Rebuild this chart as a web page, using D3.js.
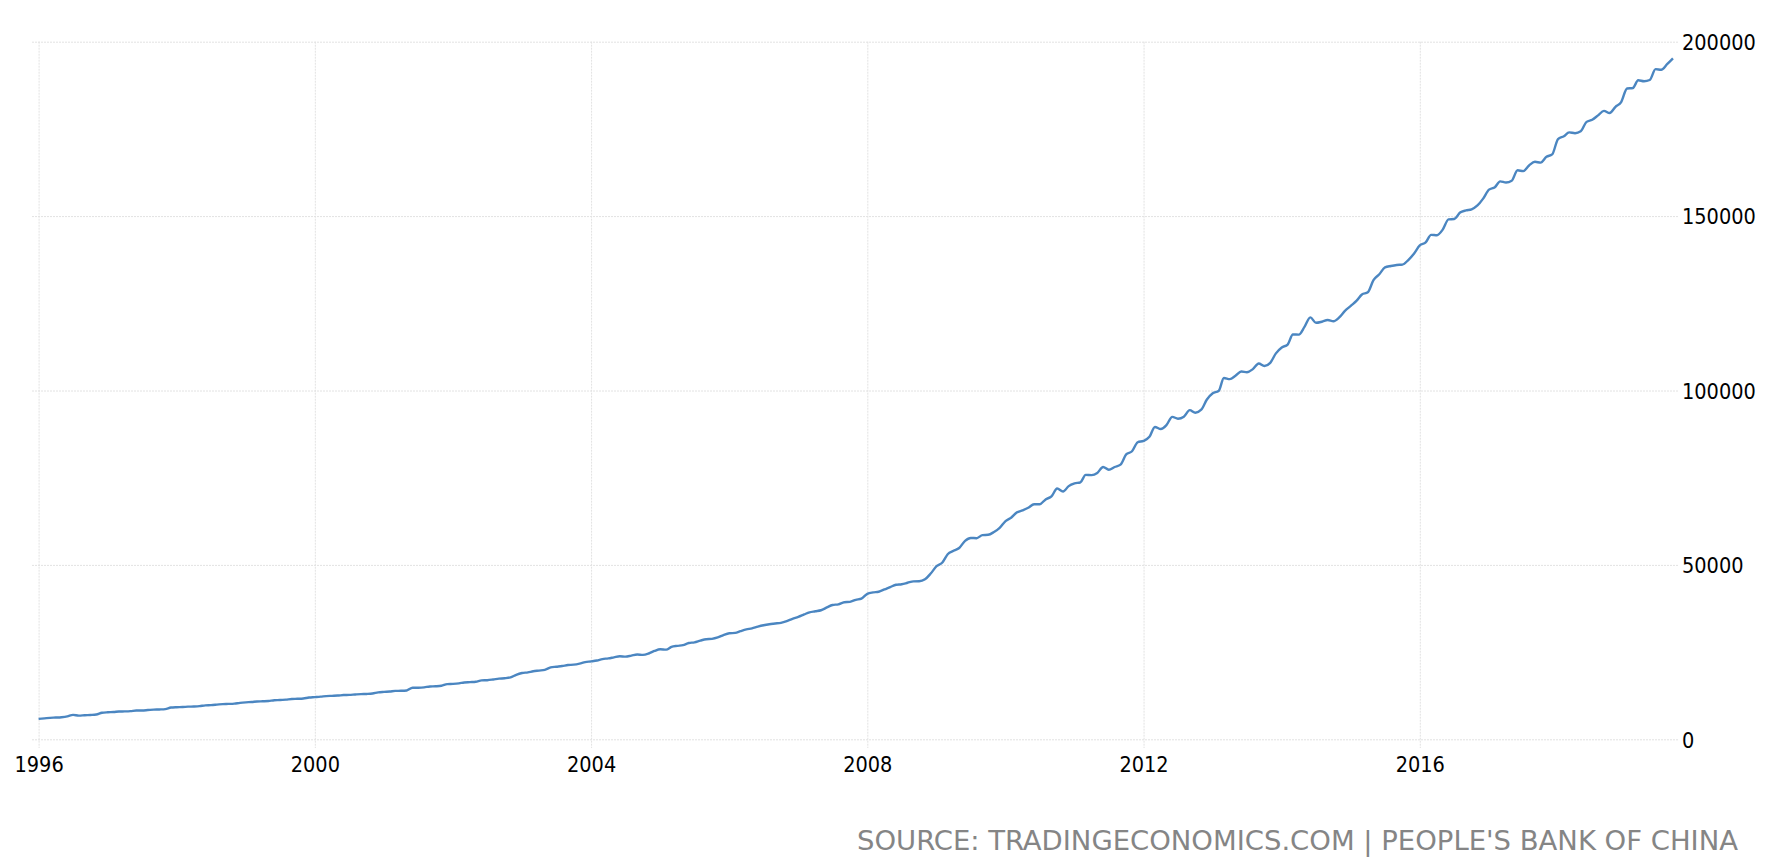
<!DOCTYPE html>
<html>
<head>
<meta charset="utf-8">
<script src="https://cdn.jsdelivr.net/npm/d3@7"></script>
<style>
  html, body { margin: 0; padding: 0; background: #ffffff; }
  svg { display: block; }
  .lbl { font-family: "DejaVu Sans Condensed", "DejaVu Sans", sans-serif; font-stretch: condensed; }
</style>
</head>
<body>
<svg id="chart" width="1781" height="859"></svg>
<script>
// ---- Data (China money supply M2, monthly) ----
const firstMonth = "1996-01";
const m2_1996 = [5850, 6000, 6150, 6230, 6330, 6560, 7000, 6780, 6900, 6980, 7100, 7609];
const m2_1997 = [7750, 7820, 7960, 8000, 8080, 8250, 8270, 8380, 8500, 8560, 8660, 9100];
const m2_1998 = [9200, 9250, 9360, 9400, 9500, 9740, 9800, 9940, 10090, 10150, 10240, 10450];
const m2_1999 = [10600, 10700, 10840, 10900, 10980, 11200, 11250, 11380, 11560, 11610, 11700, 11990];
const m2_2000 = [12100, 12220, 12380, 12460, 12540, 12680, 12730, 12850, 12960, 13000, 13120, 13461];
const m2_2001 = [13600, 13700, 13880, 13900, 14000, 14790, 14800, 14900, 15150, 15200, 15350, 15830];
const m2_2002 = [15900, 16050, 16300, 16400, 16500, 16900, 16950, 17150, 17400, 17500, 17750, 18500];
const m2_2003 = [19000, 19200, 19500, 19700, 19900, 20600, 20800, 21000, 21300, 21400, 21700, 22122];
const m2_2004 = [22340, 22600, 23000, 23200, 23500, 23800, 23700, 24000, 24300, 24200, 24600, 25321];
const m2_2005 = [25800, 25700, 26500, 26800, 27000, 27600, 27800, 28300, 28700, 28800, 29200, 29876];
const m2_2006 = [30400, 30500, 31000, 31500, 31800, 32300, 32700, 33000, 33200, 33400, 33900, 34560];
const m2_2007 = [35100, 35800, 36400, 36700, 37000, 37800, 38500, 38700, 39300, 39400, 40000, 40344];
const m2_2008 = [41716, 42106, 42306, 42978, 43652, 44312, 44462, 44875, 45289, 45302, 45869, 47517];
const m2_2009 = [49614, 50697, 53062, 54047, 54849, 56890, 57731, 57653, 58540, 58627, 59447, 60623];
const m2_2010 = [62560, 63600, 64995, 65644, 66375, 67392, 67405, 68785, 69647, 71900, 71036, 72585];
const m2_2011 = [73361, 73673, 75813, 75745, 76345, 78082, 77290, 78074, 78742, 81678, 82579, 85159];
const m2_2012 = [85557, 86707, 89557, 88959, 90086, 92450, 91917, 92492, 94369, 93640, 94495, 97415];
const m2_2013 = [99217, 99860, 103585, 103257, 104217, 105447, 105222, 106126, 107737, 107019, 107926, 110653];
const m2_2014 = [112352, 113177, 116069, 116007, 118221, 120959, 119410, 119719, 120211, 119870, 120962, 122837];
const m2_2015 = [124272, 125749, 127532, 128150, 131634, 133340, 135300, 135697, 135984, 136099, 137403, 139228];
const m2_2016 = [141630, 142458, 144622, 144516, 146112, 149052, 149166, 151015, 151640, 151955, 153041, 155007];
const m2_2017 = [157590, 158291, 159960, 159631, 160143, 163128, 162900, 164520, 165567, 165338, 167005, 167677];
const m2_2018 = [172080, 172914, 173993, 173770, 174310, 177016, 177620, 178867, 180170, 179556, 181329, 182674];
const m2_2019 = [186591, 186739, 188941, 188666, 189021, 192139, 191942, 193546, 195229];

const xTickYears = [1996, 2000, 2004, 2008, 2012, 2016];
const yTickValues = [0, 50000, 100000, 150000, 200000];
const sourceText = "SOURCE: TRADINGECONOMICS.COM | PEOPLE'S BANK OF CHINA";

// ---- Build series ----
const allValues = [].concat(m2_1996, m2_1997, m2_1998, m2_1999, m2_2000, m2_2001, m2_2002, m2_2003,
  m2_2004, m2_2005, m2_2006, m2_2007, m2_2008, m2_2009, m2_2010, m2_2011, m2_2012, m2_2013,
  m2_2014, m2_2015, m2_2016, m2_2017, m2_2018, m2_2019);
const start = d3.timeParse("%Y-%m")(firstMonth);
const series = allValues.map((v, i) => ({ date: d3.timeMonth.offset(start, i), value: v }));

// ---- Layout ----
const svg = d3.select("#chart");
const plotLeft = 38.6, gridLeft = 32, gridRight = 1678;
const yTop = 41.7, yBottom = 739.3;

const x = d3.scaleTime()
  .domain([new Date(1996, 0, 1), new Date(2016, 0, 1)])
  .range([plotLeft, 1419.8]);
const y = d3.scaleLinear().domain([0, 200000]).range([yBottom, yTop]);

const gridColor = "#e2e2e2";

// Horizontal gridlines + right labels
const yAxis = d3.axisRight(y)
  .tickValues(yTickValues)
  .tickSizeInner(-(gridRight - gridLeft))
  .tickSizeOuter(0)
  .tickPadding(4)
  .tickFormat(d3.format("d"));
const gy = svg.append("g").attr("transform", `translate(${gridRight},0)`).call(yAxis);
gy.select(".domain").remove();
gy.selectAll(".tick line").attr("stroke", gridColor).attr("stroke-dasharray", "2,1");
gy.selectAll(".tick text")
  .attr("class", "lbl")
  .attr("font-size", 21.5)
  .attr("fill", "#000")
  .attr("dy", "0.36em")
  .attr("text-anchor", "start");

// Vertical gridlines + bottom labels
const xAxis = d3.axisBottom(x)
  .tickValues(xTickYears.map(yr => new Date(yr, 0, 1)))
  .tickSizeInner(748 - yTop)
  .tickSizeOuter(0)
  .tickPadding(9)
  .tickFormat(d3.timeFormat("%Y"));
const gx = svg.append("g").attr("transform", `translate(0,${yTop})`).call(xAxis);
gx.select(".domain").remove();
gx.selectAll(".tick line").attr("stroke", gridColor).attr("stroke-dasharray", "2,1");
gx.selectAll(".tick text")
  .attr("class", "lbl")
  .attr("font-size", 21.5)
  .attr("fill", "#000");

// Line
const line = d3.line()
  .x(d => x(d.date))
  .y(d => y(d.value))
  .curve(d3.curveMonotoneX);
svg.append("path")
  .datum(series)
  .attr("fill", "none")
  .attr("stroke", "#4b86c1")
  .attr("stroke-width", 2.4)
  .attr("stroke-linejoin", "round")
  .attr("d", line);

// Source
svg.append("text")
  .attr("class", "lbl")
  .attr("x", 857)
  .attr("y", 849.5)
  .attr("font-size", 27)
  .attr("fill", "#858585")
  .attr("textLength", 881)
  .attr("lengthAdjust", "spacingAndGlyphs")
  .text(sourceText);
</script>
</body>
</html>
